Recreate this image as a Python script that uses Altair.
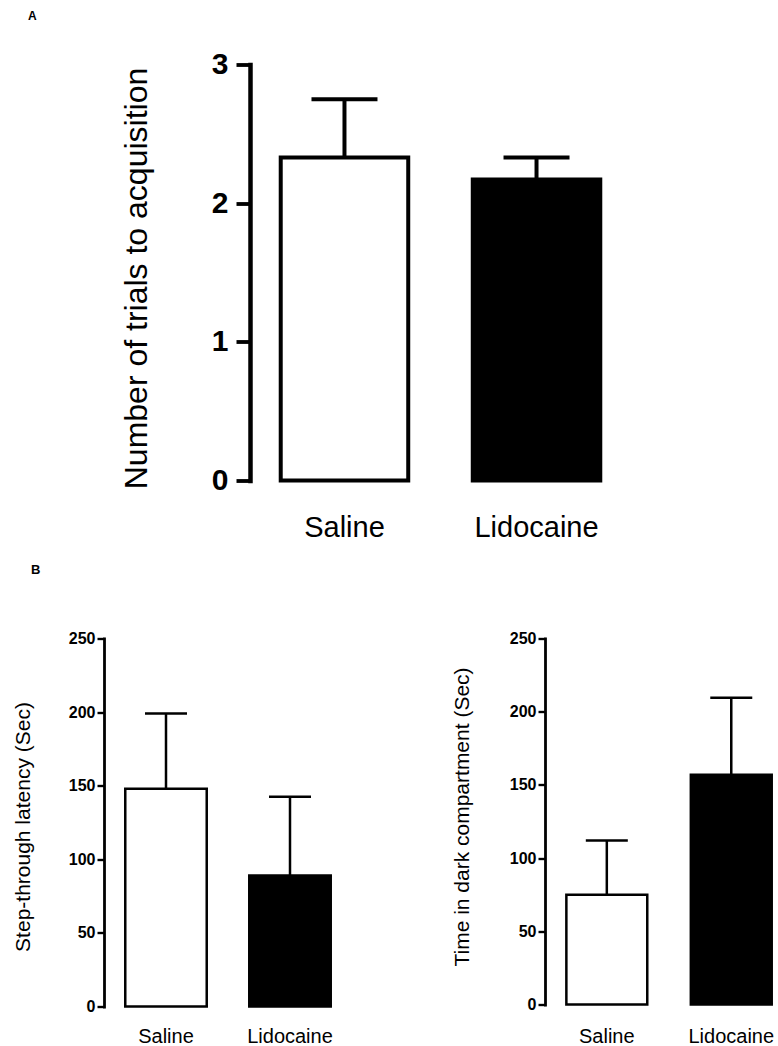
import altair as alt
import pandas as pd

groups = ["Saline", "Lidocaine"]
fills = ["white", "black"]

trials_mean = [2.33, 2.17]
trials_upper = [2.75, 2.33]

latency_mean = [148, 89]
latency_upper = [199, 142.5]

dark_mean = [75, 157]
dark_upper = [112, 209.5]

FONT = "Liberation Sans"


def panel(means, uppers, ytitle, ymax, yticks, width, height, pi, po, align,
          stroke, cap, xfs, xpad, yfs, ypad, tsize, tfs, tx, ty, domw):
    df = pd.DataFrame({"group": groups, "mean": means, "upper": uppers, "fill": fills})
    xenc = alt.X(
        "group:N", sort=groups,
        scale=alt.Scale(paddingInner=pi, paddingOuter=po, align=align),
        axis=alt.Axis(title=None, labelAngle=0, domain=False, ticks=False, tickSize=0,
                      labelFont=FONT, labelFontSize=xfs, labelColor="black",
                      labelPadding=xpad, labelFontWeight="normal"),
    )
    yenc = alt.Y(
        "mean:Q",
        scale=alt.Scale(domain=[0, ymax], nice=False, zero=True),
        axis=alt.Axis(values=yticks, title=ytitle, grid=False, format="d",
                      domainColor="black", domainWidth=domw, domainCap="square",
                      tickColor="black", tickWidth=domw * 0.85, tickSize=tsize,
                      labelFont=FONT, labelFontSize=yfs, labelFontWeight="bold",
                      labelColor="black", labelPadding=ypad,
                      titleFont=FONT, titleFontSize=tfs, titleFontWeight="normal",
                      titleColor="black", titleAngle=270, titleAlign="center",
                      titleBaseline="alphabetic", titleX=tx, titleY=ty),
    )
    base = alt.Chart(df)
    err = base.mark_rule(color="black", strokeWidth=stroke).encode(
        x=alt.X("group:N", sort=groups), y="mean:Q", y2="upper:Q")
    caps = base.mark_tick(color="black", size=cap, thickness=stroke, opacity=1).encode(
        x=alt.X("group:N", sort=groups), y=alt.Y("upper:Q"))
    bars = base.mark_bar(stroke="black", strokeWidth=stroke).encode(
        x=xenc, y=yenc, fill=alt.Fill("fill:N", scale=None))
    return alt.layer(bars, err, caps).properties(width=width, height=height)


def letter(txt, x, y, size):
    return alt.Chart(pd.DataFrame({"t": [txt]})).mark_text(
        font=FONT, fontSize=size, fontWeight="bold", align="left",
        baseline="alphabetic", color="black"
    ).encode(x=alt.value(x), y=alt.value(y), text="t:N")


panel_a = panel(trials_mean, trials_upper, "Number of trials to acquisition", 3,
                [0, 1, 2, 3], 381, 416, 0.336, 0.16, 0.5,
                4, 66, 29, 32.5, 30, 8, 14, 32, -103.5, 213.5, 4.5)
label_a = letter("A", -76, -45, 12).properties(width=100, height=416)
top = alt.hconcat(label_a, panel_a, spacing=46, bounds="flush")

b1 = panel(latency_mean, latency_upper, "Step-through latency (Sec)", 250,
           [0, 50, 100, 150, 200, 250], 248, 368, 0.343, 0.1715, 0.5,
           2.5, 42, 20, 20, 16, 2, 7, 21, -74.5, 188, 2.8)
b1 = alt.layer(b1, letter("B", -73, -65, 13))

b2 = panel(dark_mean, dark_upper, "Time in dark compartment (Sec)", 250,
           [0, 50, 100, 150, 200, 250], 230, 366, 0.35, 0.099, 0.867,
           2.5, 42, 20, 22, 16, 2, 7, 21, -76.8, 178, 2.8)

bottom = alt.hconcat(b1, b2, spacing=193, bounds="flush")

chart = alt.vconcat(top, bottom, spacing=21).properties(
    padding={"left": 12, "top": 9.5, "right": 0, "bottom": 0},
    background="white",
).configure_view(strokeWidth=0)

chart.save("out.html", embed_options={"renderer": "svg", "actions": False})
